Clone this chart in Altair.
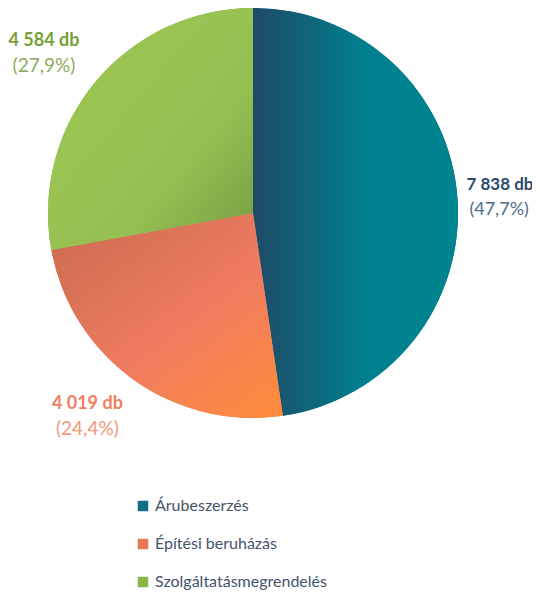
import altair as alt
import pandas as pd

categories = ["Árubeszerzés", "Építési beruházás", "Szolgáltatásmegrendelés"]
counts = [7838, 4019, 4584]
count_labels = ["7 838 db", "4 019 db", "4 584 db"]
pct_labels = ["(47,7%)", "(24,4%)", "(27,9%)"]
solid_colors = ["#0f6f86", "#ec7658", "#8ab648"]
bold_colors = ["#2b4a6b", "#f0805f", "#76a03a"]
pct_colors = ["#4a6d8c", "#f4987c", "#8aac5c"]

df = pd.DataFrame({
    "cat": categories,
    "n": counts,
    "order": [0, 1, 2],
    "lab1": count_labels,
    "lab2": pct_labels,
})

gradients = [
    {"gradient": "linear", "x1": 0, "y1": 0.5, "x2": 1, "y2": 0.5,
     "stops": [{"offset": 0, "color": "#1f4a66"}, {"offset": 0.55, "color": "#00808f"},
               {"offset": 1, "color": "#00848f"}]},
    {"gradient": "linear", "x1": 0.2, "y1": 0.05, "x2": 1, "y2": 1,
     "stops": [{"offset": 0, "color": "#d06e52"}, {"offset": 0.5, "color": "#f07c60"},
               {"offset": 1, "color": "#ff8c3a"}]},
    {"gradient": "linear", "x1": 0.3, "y1": 0.3, "x2": 1, "y2": 1,
     "stops": [{"offset": 0, "color": "#9ac452"}, {"offset": 0.5, "color": "#96bf52"},
               {"offset": 1, "color": "#769c44"}]},
]
# label placement styles per slice
label_align = ["left", "center", "center"]
label_radius = [214, 250, 250]
label_dx1 = [0, -20, -17]
label_dx2 = [3, -20, -17]
size1 = [17, 18, 18]
size2 = [18, 19, 19]

CX, CY, R = 245, 205, 205
font = "Lato"

theta = alt.Theta("n:Q", stack=True)
order = alt.Order("order:Q")

base = alt.Chart(df)

solid = base.mark_arc(outerRadius=R).encode(
    theta=theta, order=order,
    x=alt.value(CX), y=alt.value(CY),
    color=alt.Color("cat:N", sort=categories,
                    scale=alt.Scale(domain=categories, range=solid_colors),
                    legend=alt.Legend(
                        title=None, orient="none", legendX=127, legendY=490,
                        direction="vertical", symbolType="square", symbolSize=110,
                        labelFont=font, labelFontSize=16, labelColor="#44546a",
                        labelLimit=0, rowPadding=22, labelOffset=4,
                        symbolStrokeWidth=0)),
)

layers = [solid]
for i, c in enumerate(categories):
    layers.append(
        base.mark_arc(outerRadius=R, fill=gradients[i]).encode(
            theta=theta, order=order,
            x=alt.value(CX), y=alt.value(CY),
            opacity=alt.condition(alt.datum.cat == c, alt.value(1), alt.value(0)),
        )
    )

for i, c in enumerate(categories):
    layers.append(
        base.mark_text(radius=label_radius[i], fontSize=size1[i], fontWeight="bold",
                       font=font, align=label_align[i],
                       color=bold_colors[i], dy=-12, dx=label_dx1[i]).encode(
            theta=theta, order=order,
            x=alt.value(CX), y=alt.value(CY),
            text="lab1:N",
            opacity=alt.condition(alt.datum.cat == c, alt.value(1), alt.value(0)),
        )
    )
    layers.append(
        base.mark_text(radius=label_radius[i], fontSize=size2[i], font=font,
                       align=label_align[i],
                       color=pct_colors[i], dy=13, dx=label_dx2[i]).encode(
            theta=theta, order=order,
            x=alt.value(CX), y=alt.value(CY),
            text="lab2:N",
            opacity=alt.condition(alt.datum.cat == c, alt.value(1), alt.value(0)),
        )
    )

chart = alt.layer(*layers).properties(
    width=524, height=582, padding=0,
    autosize=alt.AutoSizeParams(type="none"),
).configure_view(stroke=None)

chart.save("out.html", embed_options={"renderer": "svg", "actions": False})
